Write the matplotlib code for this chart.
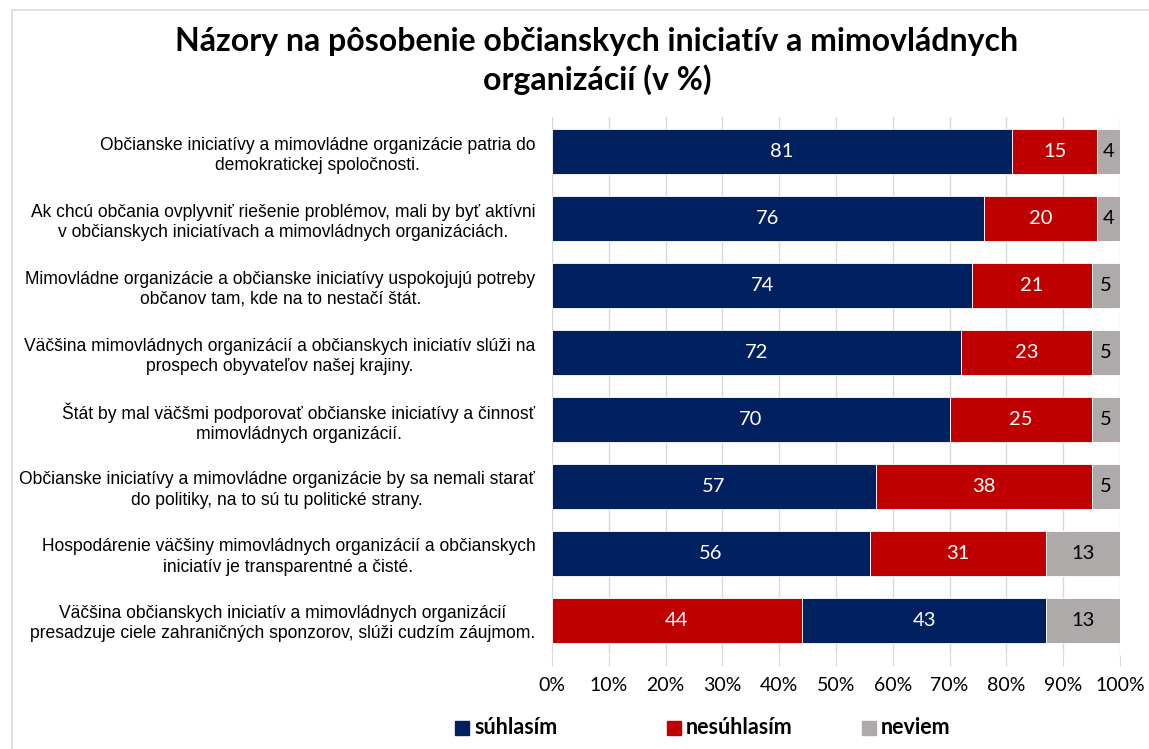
import numpy as np
import matplotlib.pyplot as plt
from matplotlib.patches import Rectangle

# data
questions = [
    "Občianske iniciatívy a mimovládne organizácie patria do\ndemokratickej spoločnosti.",
    "Ak chcú občania ovplyvniť riešenie problémov, mali by byť aktívni\nv občianskych iniciatívach a mimovládnych organizáciách.",
    "Mimovládne organizácie a občianske iniciatívy uspokojujú potreby\nobčanov tam, kde na to nestačí štát.",
    "Väčšina mimovládnych organizácií a občianskych iniciatív slúži na\nprospech obyvateľov našej krajiny.",
    "Štát by mal väčšmi podporovať občianske iniciatívy a činnosť\nmimovládnych organizácií.",
    "Občianske iniciatívy a mimovládne organizácie by sa nemali starať\ndo politiky, na to sú tu politické strany.",
    "Hospodárenie väčšiny mimovládnych organizácií a občianskych\niniciatív je transparentné a čisté.",
    "Väčšina občianskych iniciatív a mimovládnych organizácií\npresadzuje ciele zahraničných sponzorov, slúži cudzím záujmom.",
]
suhlasim = [81, 76, 74, 72, 70, 57, 56, 43]
nesuhlasim = [15, 20, 21, 23, 25, 38, 31, 44]
neviem = [4, 4, 5, 5, 5, 5, 13, 13]
# v poslednom riadku je nesúhlasím ako prvý segment
nesuhlasim_prvy = [False, False, False, False, False, False, False, True]
ticks = [0, 10, 20, 30, 40, 50, 60, 70, 80, 90, 100]
legend_labels = ["súhlasím", "nesúhlasím", "neviem"]

BLUE = "#002060"
RED = "#C00000"
GREY = "#AEAAAA"


def main():
    W, H = 1149, 749
    fig = plt.figure(figsize=(W / 100, H / 100), dpi=100)
    ax = fig.add_axes([552 / W, 1 - 655 / H, 568 / W, 538 / H])

    y = np.arange(len(questions))
    s = np.array(suhlasim, dtype=float)
    n = np.array(nesuhlasim, dtype=float)
    d = np.array(neviem, dtype=float)
    flip = np.array(nesuhlasim_prvy)

    left_s = np.where(flip, n, 0)
    left_n = np.where(flip, 0, s)
    left_d = s + n

    h = 0.67
    ax.barh(y, s, left=left_s, height=h, color=BLUE, edgecolor="white", lw=0.6, zorder=3)
    ax.barh(y, n, left=left_n, height=h, color=RED, edgecolor="white", lw=0.6, zorder=3)
    ax.barh(y, d, left=left_d, height=h, color=GREY, edgecolor="white", lw=0.6, zorder=3)

    # hodnoty v stĺpcoch
    for i in range(len(y)):
        for val, lft, col in [(s[i], left_s[i], "white"), (n[i], left_n[i], "white"),
                              (d[i], left_d[i], "black")]:
            ax.text(lft + val / 2, y[i], f"{val:.0f}", ha="center", va="center",
                    color=col, fontsize=14.5, family="Lato", zorder=4)

    ax.set_xlim(0, 100)
    ax.set_ylim(7.52, -0.52)
    ax.set_xticks(ticks)
    ax.set_xticklabels([f"{t}%" for t in ticks], fontsize=14, family="Lato")
    ax.tick_params(axis="x", length=8, color="#D9D9D9", pad=8)
    ax.set_yticks(y)
    ax.set_yticklabels(questions, fontsize=12.65, family=["Liberation Sans", "DejaVu Sans"],
                       multialignment="center", linespacing=1.25)
    ax.tick_params(axis="y", length=0, pad=12)
    ax.grid(axis="x", color="#D9D9D9", lw=1, zorder=0)
    for sp in ax.spines.values():
        sp.set_visible(False)

    fig.text(597 / W, 1 - 42 / H, "Názory na pôsobenie občianskych iniciatív a mimovládnych",
             ha="center", va="center", fontsize=23, fontweight="bold", family="Lato")
    fig.text(597 / W, 1 - 80 / H, "organizácií (v %)",
             ha="center", va="center", fontsize=23, fontweight="bold", family="Lato")

    # legenda
    leg_x = [455, 667, 862]
    for x0, lab, col in zip(leg_x, legend_labels, [BLUE, RED, GREY]):
        fig.patches.append(Rectangle((x0 / W, 1 - 735 / H), 14 / W, 14 / H,
                                     transform=fig.transFigure, color=col))
        fig.text((x0 + 19) / W, 1 - 728 / H, lab, ha="left", va="center",
                 fontsize=15.5, fontweight="bold", family="Lato")

    # rámček grafu
    fig.patches.append(Rectangle((12 / W, -0.01), 1.1, 1 - 10 / H + 0.01,
                                 transform=fig.transFigure, fill=False,
                                 edgecolor="#D9D9D9", lw=1.2))

    fig.savefig("out.png", dpi=100)


if __name__ == "__main__":
    main()
